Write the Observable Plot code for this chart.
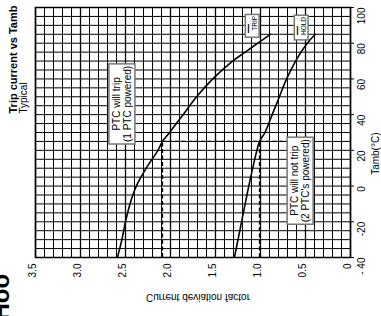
<!DOCTYPE html>
<html><head><meta charset="utf-8">
<script src="https://cdn.jsdelivr.net/npm/d3@7"></script>
<script src="https://cdn.jsdelivr.net/npm/@observablehq/plot@0.6"></script>
<style>body{margin:0;background:#fff;overflow:hidden} svg{display:block}</style>
</head><body><div id="chart"></div>
<script>
const tripTemp   = [-40, -30, -20, -10, 0, 10, 20, 25, 30, 40, 50, 60, 70, 75, 80, 85];
const tripFactor = [2.59, 2.54, 2.50, 2.45, 2.38, 2.27, 2.14, 2.09, 2.01, 1.86, 1.71, 1.53, 1.31, 1.17, 1.03, 0.89];
const holdTemp   = [-40, -20, 0, 20, 25, 30, 40, 50, 60, 70, 80, 85];
const holdFactor = [1.29, 1.21, 1.13, 1.04, 1.01, 0.95, 0.87, 0.79, 0.71, 0.61, 0.48, 0.39];
const xTickValues = [3.5, 3.0, 2.5, 2.0, 1.5, 1.0, 0.5, 0];
const xTickLabels = ["3.5", "3.0", "2.5", "2.0", "1.5", "1.0", "0.5", "0"];
const yTickValues = [-40, -20, 0, 20, 40, 60, 80, 100];
const yTickLabels = ["- 40", "-20", "0", "20", "40", "60", "80", "100"];
const refTemp = 25;
const refTrip = 2.09;
const refHold = 1.01;

const trip = tripTemp.map((t, i) => ({t, f: tripFactor[i]}));
const hold = holdTemp.map((t, i) => ({t, f: holdFactor[i]}));
const xGrid = d3.range(0, 36).map(i => i / 10);
const yGrid = d3.range(-40, 101, 5);
const xTicks = xTickValues.map((v, i) => ({v, label: xTickLabels[i]}));
const yTicks = yTickValues.map((v, i) => ({v, label: yTickLabels[i]}));

const font = "Liberation Sans, Arial, sans-serif";
const plot = Plot.plot({
  width: 381, height: 316,
  marginLeft: 35, marginRight: 31, marginTop: 7, marginBottom: 59,
  style: {fontFamily: font, background: "#fff", overflow: "visible"},
  x: {domain: [3.5, 0], axis: null},
  y: {domain: [-40, 100], axis: null},
  marks: [
    Plot.ruleY(yGrid, {y: d => d, x1: 3.5, x2: 0, stroke: "#000", strokeWidth: 1}),
    Plot.ruleX(xGrid, {x: d => d, y1: -40, y2: 100, stroke: "#000", strokeWidth: 1}),
    Plot.ruleX(xTicks, {x: "v", y1: -40, y2: 100, stroke: "#000", strokeWidth: 1.3}),
    Plot.frame({stroke: "#000", strokeWidth: 1.5}),
    Plot.axisY(yTickValues, {anchor: "right", tickSize: 3, tickFormat: () => "", stroke: "#000"}),
    Plot.ruleX([refTrip, refHold], {x: d => d, y1: -40, y2: refTemp, stroke: "#000", strokeWidth: 1.5, strokeDasharray: "4,2.5"}),
    Plot.ruleY([refTemp], {y: d => d, x1: refTrip, x2: 0.5, stroke: "#000", strokeWidth: 1.2, strokeDasharray: "4,2.5"}),
    Plot.line(trip, {x: "f", y: "t", curve: "catmull-rom", stroke: "#000", strokeWidth: 1.6}),
    Plot.line(hold, {x: "f", y: "t", curve: "catmull-rom", stroke: "#000", strokeWidth: 1.6}),
    Plot.text(xTicks, {x: "v", frameAnchor: "bottom", dy: 6, text: "label", rotate: -90, textAnchor: "end", fontSize: 10, fill: "#000"}),
    Plot.text(yTicks, {y: "v", frameAnchor: "right", dx: 11, text: "label", rotate: -90, fontSize: 10, fill: "#000"}),
    Plot.text(["Trip current vs Tamb"], {frameAnchor: "left", dx: -22, dy: -19, rotate: -90, fontSize: 11, fontWeight: "bold", fill: "#000"}),
    Plot.text(["Typical"], {frameAnchor: "left", dx: -11.5, dy: -19, rotate: -90, fontSize: 10, fill: "#000"}),
    Plot.text(["Tamb(°C)"], {frameAnchor: "right", dx: 25.5, rotate: -90, fontSize: 10, fill: "#000"}),
    Plot.text(["Current deviation factor"], {frameAnchor: "bottom", dx: 5, dy: 36, fontSize: 10, fill: "#000", className: "flipped"}),
    Plot.text(["Hoo"], {frameAnchor: "bottom-left", dx: -27, dy: 63, rotate: -90, textAnchor: "start", lineAnchor: "bottom", fontSize: 24, fontWeight: "bold", fill: "#000"}),
    Plot.text(["PTC will trip\n(1 PTC powered)"], {x: 2.54, y: 46, rotate: -90, fontSize: 10, lineHeight: 1.1, fill: "#000", className: "box-a"}),
    Plot.text(["PTC will not trip\n(2 PTC's powered)"], {x: 0.56, y: 3, rotate: -90, fontSize: 10, lineHeight: 1.1, fill: "#000", className: "box-b"}),
    Plot.text(["I"], {x: 1.094, y: 90, dx: -3.5, dy: 3.5, fontSize: 12, fill: "#000", className: "box-c"}),
    Plot.text(["TRIP"], {x: 1.094, y: 90, dx: 2.5, dy: -2, rotate: -90, fontSize: 6.5, fill: "#000", className: "box-c"}),
    Plot.text(["I"], {x: 0.55, y: 88.5, dx: -3.5, dy: 3.5, fontSize: 12, fill: "#000", className: "box-d"}),
    Plot.text(["HOLD"], {x: 0.55, y: 88.5, dx: 2.5, dy: -2, rotate: -90, fontSize: 6.5, fill: "#000", className: "box-d"})
  ]
});
document.getElementById("chart").appendChild(plot);
// flip axis label vertically like the reference
d3.select(plot).selectAll("g.flipped text").each(function() {
  const t = d3.select(this);
  t.attr("transform", (t.attr("transform") || "") + " scale(1,-1)");
});
// white boxes behind the annotations
const svgBox = plot.getBoundingClientRect();
for (const cls of ["box-a", "box-b", "box-c", "box-d"]) {
  const groups = plot.querySelectorAll("g." + cls);
  let x0 = Infinity, y0 = Infinity, x1 = -Infinity, y1 = -Infinity;
  groups.forEach(g => g.querySelectorAll("text").forEach(t => {
    const r = t.getBoundingClientRect();
    x0 = Math.min(x0, r.left); y0 = Math.min(y0, r.top);
    x1 = Math.max(x1, r.right); y1 = Math.max(y1, r.bottom);
  }));
  const pad = cls === "box-c" || cls === "box-d" ? 1.5 : 2;
  d3.select(plot).insert("rect", () => groups[0])
    .attr("x", x0 - svgBox.left - pad).attr("y", y0 - svgBox.top - pad)
    .attr("width", x1 - x0 + 2 * pad).attr("height", y1 - y0 + 2 * pad)
    .attr("fill", "#fff").attr("stroke", "#777").attr("stroke-width", 1.5);
}
</script></body></html>
